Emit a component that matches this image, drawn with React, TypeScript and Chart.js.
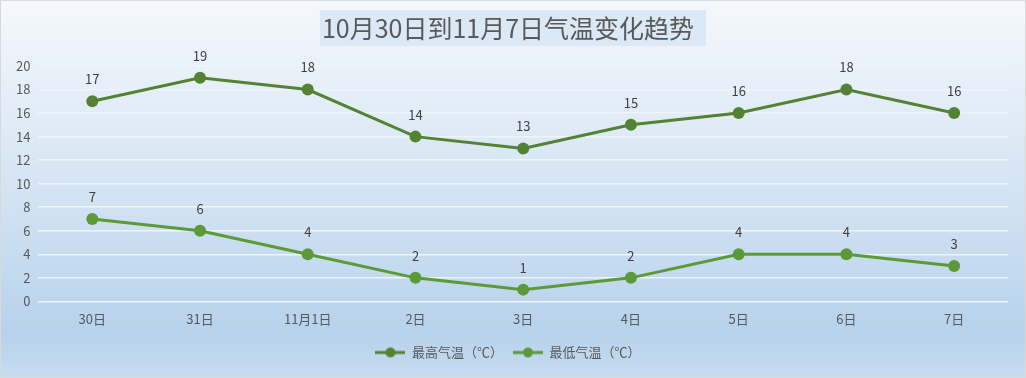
import React, { useEffect, useRef } from "react";
import { Chart, registerables } from "chart.js";

Chart.register(...registerables);

const categories = ["30日", "31日", "11月1日", "2日", "3日", "4日", "5日", "6日", "7日"];
const maxTemps = [17, 19, 18, 14, 13, 15, 16, 18, 16];
const minTemps = [7, 6, 4, 2, 1, 2, 4, 4, 3];
const seriesNames = ["最高气温（℃）", "最低气温（℃）"];
const seriesColors = ["#548235", "#5b9a36"];
const titleText = "10月30日到11月7日气温变化趋势";
const FONT = "'Noto Sans CJK SC', 'Noto Sans', sans-serif";
const TITLE_SIZE = 25;

function legendIcon(color: string) {
  const c = document.createElement("canvas");
  c.width = 30;
  c.height = 12;
  const ctx = c.getContext("2d")!;
  ctx.strokeStyle = color;
  ctx.lineWidth = 3;
  ctx.beginPath();
  ctx.moveTo(0, 6);
  ctx.lineTo(30, 6);
  ctx.stroke();
  ctx.fillStyle = color;
  ctx.beginPath();
  ctx.arc(15, 6, 5, 0, Math.PI * 2);
  ctx.fill();
  return c;
}

const bgPlugin = {
  id: "bgPlugin",
  beforeDraw(chart: any) {
    const { ctx, width, height } = chart;
    ctx.save();
    const g = ctx.createLinearGradient(0, 0, 0, height);
    g.addColorStop(0, "#f5f8fc");
    g.addColorStop(0.5, "#d4e4f3");
    g.addColorStop(0.88, "#b7d2ec");
    g.addColorStop(1, "#c6dcf0");
    ctx.fillStyle = g;
    ctx.fillRect(0, 0, width, height);
    ctx.strokeStyle = "#d9d9d9";
    ctx.lineWidth = 1;
    ctx.strokeRect(0.5, 0.5, width - 1, height - 1);
    ctx.font = `${TITLE_SIZE}px ${FONT}`;
    const tw = ctx.measureText(titleText).width;
    const cx = width / 2;
    ctx.fillStyle = "#dbe8f5";
    ctx.fillRect(cx - tw / 2 - 7, 10, tw + 14, 36);
    ctx.restore();
  },
};

const labelPlugin = {
  id: "labelPlugin",
  afterDatasetsDraw(chart: any) {
    const { ctx } = chart;
    ctx.save();
    ctx.font = `13px ${FONT}`;
    ctx.fillStyle = "#404040";
    ctx.textAlign = "center";
    ctx.textBaseline = "middle";
    chart.data.datasets.forEach((ds: any, i: number) => {
      const meta = chart.getDatasetMeta(i);
      meta.data.forEach((pt: any, j: number) => {
        ctx.fillText(String(ds.data[j]), pt.x, pt.y - 22);
      });
    });
    ctx.restore();
  },
};

export default function App() {
  const ref = useRef<HTMLCanvasElement>(null);
  useEffect(() => {
    const icons = seriesColors.map(legendIcon);
    const chart = new Chart(ref.current!, {
      type: "line",
      data: {
        labels: categories,
        datasets: [
          {
            label: seriesNames[0],
            data: maxTemps,
            borderColor: seriesColors[0],
            backgroundColor: seriesColors[0],
            borderWidth: 3,
            pointRadius: 6,
            pointBorderWidth: 0,
            tension: 0,
          },
          {
            label: seriesNames[1],
            data: minTemps,
            borderColor: seriesColors[1],
            backgroundColor: seriesColors[1],
            borderWidth: 3,
            pointRadius: 6,
            pointBorderWidth: 0,
            tension: 0,
          },
        ],
      },
      options: {
        animation: false,
        responsive: false,
        layout: { padding: { left: 8, right: 18, top: 0, bottom: 9 } },
        plugins: {
          title: {
            display: true,
            text: titleText,
            color: "#595959",
            font: { family: FONT, size: TITLE_SIZE, weight: "normal" },
            padding: { top: 13, bottom: 23 },
          },
          legend: {
            position: "bottom",
            labels: {
              usePointStyle: true,
              pointStyleWidth: 30,
              color: "#595959",
              font: { family: FONT, size: 13 },
              padding: 10,
              generateLabels: (ch: any) =>
                ch.data.datasets.map((ds: any, i: number) => ({
                  text: ds.label,
                  fillStyle: seriesColors[i],
                  strokeStyle: seriesColors[i],
                  lineWidth: 0,
                  pointStyle: icons[i],
                  hidden: false,
                  datasetIndex: i,
                  fontColor: "#595959",
                })),
            },
          },
          tooltip: { enabled: false },
        },
        scales: {
          x: {
            offset: true,
            grid: { display: false },
            border: { display: false },
            ticks: { color: "#595959", font: { family: FONT, size: 13 }, padding: 2 },
            afterFit: (s: any) => {
              s.height += 7;
            },
          },
          y: {
            min: 0,
            max: 20,
            ticks: { stepSize: 2, color: "#595959", font: { family: FONT, size: 13 }, padding: 8 },
            grid: { color: "#eef4fa", lineWidth: 1.5, drawTicks: false },
            border: { display: false },
          },
        },
      },
      plugins: [bgPlugin, labelPlugin],
    });
    return () => chart.destroy();
  }, []);
  return (
    <div style={{ position: "absolute", left: 0, top: 0, width: 1026, height: 378 }}>
      <canvas ref={ref} width={1026} height={378} style={{ display: "block" }} />
    </div>
  );
}
